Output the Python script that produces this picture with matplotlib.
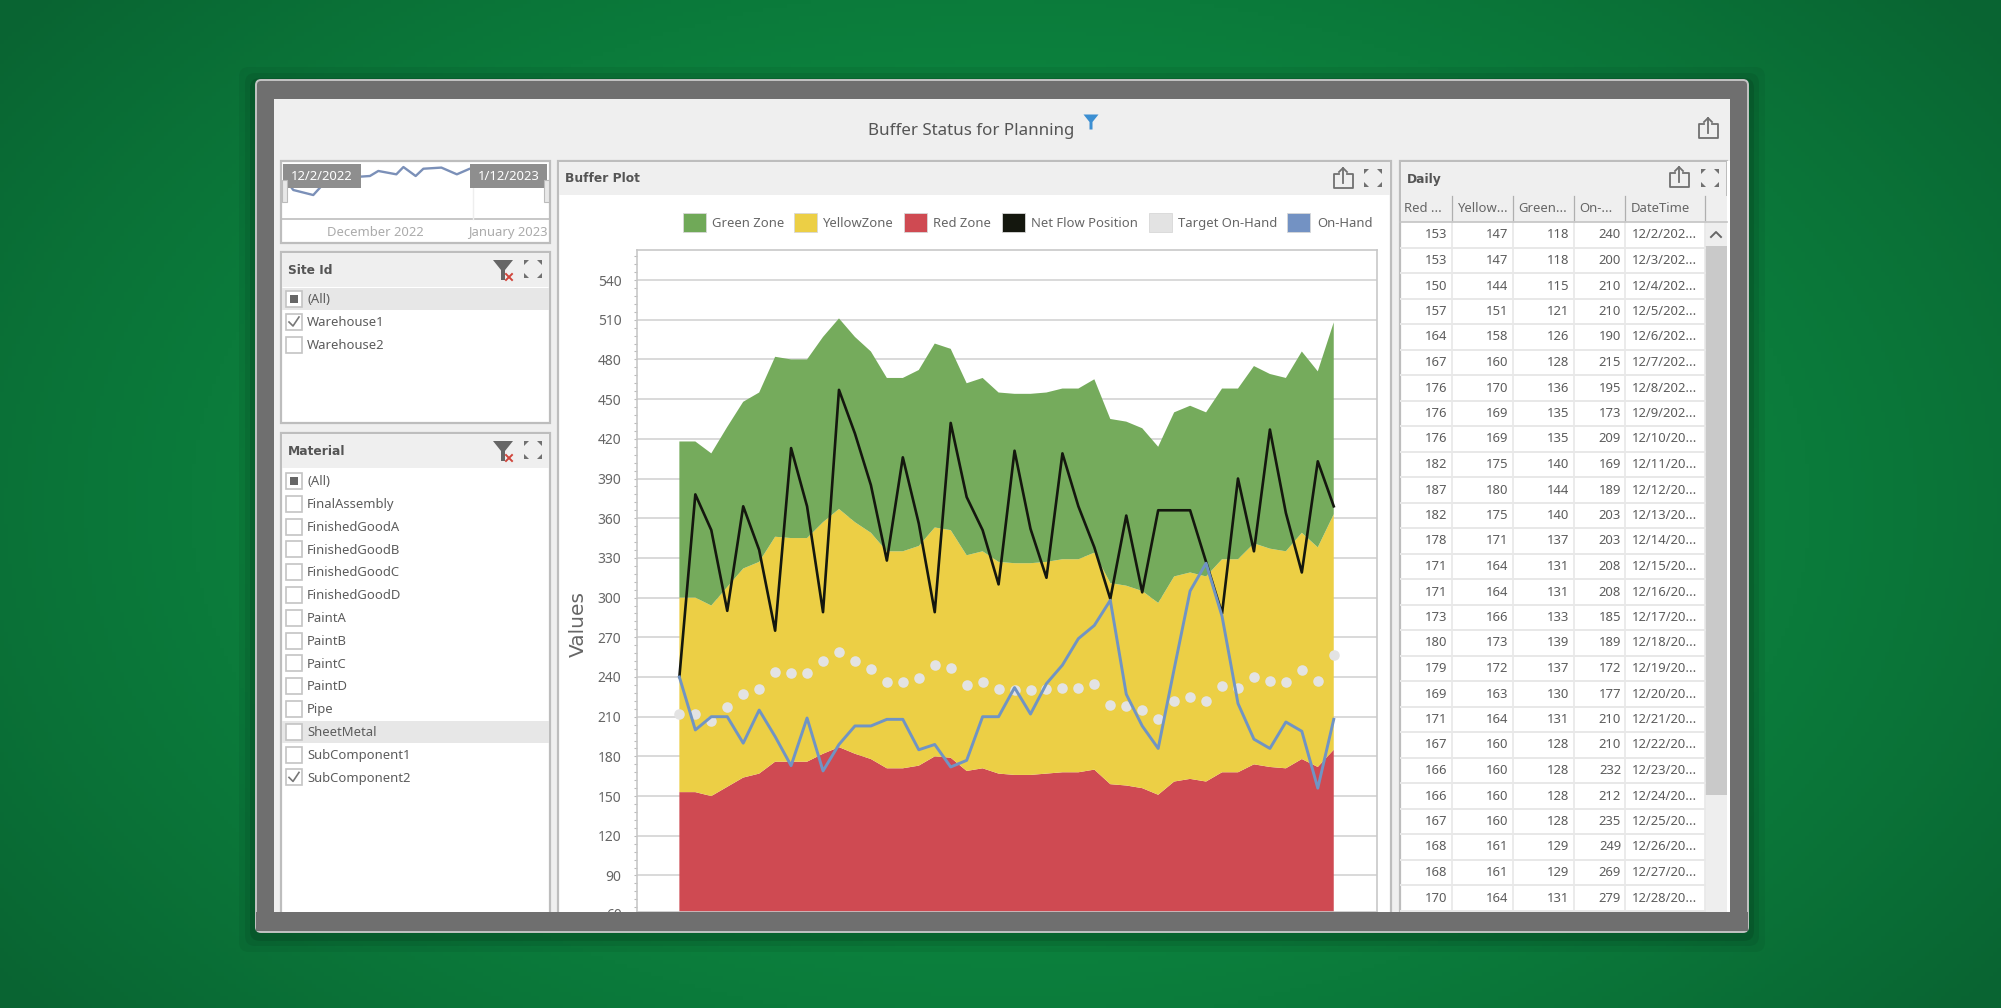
import matplotlib
matplotlib.use("Agg")
import matplotlib.pyplot as plt
import numpy as np
from matplotlib.patches import Rectangle, Polygon, FancyBboxPatch
from matplotlib.ticker import MultipleLocator

red_zone = [153, 153, 150, 157, 164, 167, 176, 176, 176, 182, 187, 182, 178, 171, 171, 173, 180, 179, 169, 171, 167,
            166, 166, 167, 168, 168, 170, 159, 158, 156, 151, 161, 163, 161, 168, 168, 174, 172, 171, 178, 172, 185]
yellow_zone = [147, 147, 144, 151, 158, 160, 170, 169, 169, 175, 180, 175, 171, 164, 164, 166, 173, 172, 163, 164, 160,
               160, 160, 160, 161, 161, 164, 152, 151, 149, 145, 155, 156, 155, 161, 161, 167, 165, 164, 171, 166, 178]
green_zone = [118, 118, 115, 121, 126, 128, 136, 135, 135, 140, 144, 140, 137, 131, 131, 133, 139, 137, 130, 131, 128,
              128, 128, 128, 129, 129, 131, 124, 124, 123, 118, 124, 126, 124, 129, 129, 134, 132, 131, 137, 133, 145]
on_hand = [240, 200, 210, 210, 190, 215, 195, 173, 209, 169, 189, 203, 203, 208, 208, 185, 189, 172, 177, 210, 210,
           232, 212, 235, 249, 269, 279, 298, 227, 203, 186, 246, 305, 326, 286, 220, 193, 186, 206, 199, 156, 208]
net_flow = [240, 378, 351, 290, 369, 336, 275, 413, 369, 289, 457, 424, 385, 328, 406, 356, 289, 432, 376, 351, 310,
            411, 352, 315, 409, 369, 338, 299, 362, 304, 366, 366, 366, 327, 288, 390, 335, 427, 364, 319, 403, 369]
target_on_hand = [212, 212, 207, 217, 227, 231, 244, 243, 243, 252, 259, 252, 246, 236, 236, 239, 249, 247, 234, 236, 231,
                  230, 230, 231, 232, 232, 235, 219, 218, 215, 208, 222, 225, 222, 233, 232, 240, 237, 236, 245, 237, 257]
days = np.arange(len(red_zone))

y_ticks = list(range(90, 541, 30))
legend_names = ["Green Zone", "YellowZone", "Red Zone", "Net Flow Position", "Target On-Hand", "On-Hand"]
legend_colors = ["#70A958", "#ECCF45", "#CF4A52", "#14170E", "#E3E3E3", "#7392C3"]

mini_days = [-0.2, 1.6, 4.7, 7, 12.2, 13.5, 14.8, 17.6, 18.7, 20.6, 21.8, 24.6, 27, 29, 35, 41]
mini_values = [77, 50, 41, 70, 74, 75, 84, 78, 91, 75, 88, 90, 78, 88, 85, 80]

site_names = ["(All)", "Warehouse1", "Warehouse2"]
site_states = ["some", "on", "off"]
material_names = ["(All)", "FinalAssembly", "FinishedGoodA", "FinishedGoodB", "FinishedGoodC", "FinishedGoodD",
                  "PaintA", "PaintB", "PaintC", "PaintD", "Pipe", "SheetMetal", "SubComponent1", "SubComponent2"]
material_states = ["some"] + ["off"] * 12 + ["on"]

table_columns = ["Red ...", "Yellow...", "Green...", "On-...", "DateTime"]
table_rows = 27
table_dates = ["12/%d/202..." % d if d < 10 else "12/%d/20..." % d for d in range(2, 2 + table_rows)]

plt.rcParams["font.family"] = ["Noto Sans", "DejaVu Sans"]
W, H = 2001, 1008
TXT = "#5C5C5C"
BORDER = "#BDBDBD"
HEAD = "#EFEFEF"

fig = plt.figure(figsize=(W / 100, H / 100), dpi=100)


def px_axes(z):
    a = fig.add_axes([0, 0, 1, 1], zorder=z)
    a.set_xlim(0, W)
    a.set_ylim(H, 0)
    a.axis("off")
    a.patch.set_alpha(0)
    return a


bg = px_axes(0)
top = px_axes(5)


def rect(a, x0, y0, x1, y1, fc, ec="none", lw=1.0, **kw):
    a.add_patch(Rectangle((x0, y0), x1 - x0, y1 - y0, facecolor=fc, edgecolor=ec, linewidth=lw, **kw))


def label(x, y, s, size=9.4, color=TXT, ha="left", **kw):
    bg.text(x, y + 0.8, s, fontsize=size, color=color, ha=ha, va="center", **kw)


def share_icon(cx, cy):
    bg.plot([cx - 4, cx - 9.5, cx - 9.5, cx + 9.5, cx + 9.5, cx + 4], [cy - 5, cy - 5, cy + 9, cy + 9, cy - 5, cy - 5],
            color="#707070", lw=1.3)
    bg.plot([cx, cx], [cy + 4, cy - 11], color="#707070", lw=1.3)
    bg.plot([cx - 4, cx, cx + 4], [cy - 7, cy - 11, cy - 7], color="#707070", lw=1.3)


def expand_icon(cx, cy):
    for sx in (-1, 1):
        for sy in (-1, 1):
            bg.add_patch(Polygon([(cx + sx * 9, cy + sy * 9), (cx + sx * 4, cy + sy * 9), (cx + sx * 9, cy + sy * 4)],
                                 facecolor="#707070", edgecolor="none"))


def funnel_icon(cx, cy, color="#666666", size=10.0, cross=True):
    s = size
    bg.add_patch(Polygon([(cx - s, cy - s), (cx + s, cy - s), (cx + s * 0.2, cy), (cx + s * 0.2, cy + s),
                          (cx - s * 0.2, cy + s), (cx - s * 0.2, cy)], facecolor=color, edgecolor="none"))
    if cross:
        bg.plot([cx + 3, cx + 9], [cy + 4, cy + 10], color="#D0453C", lw=1.4)
        bg.plot([cx + 3, cx + 9], [cy + 10, cy + 4], color="#D0453C", lw=1.4)


def check_box(x, y, state):
    rect(bg, x, y - 8, x + 16, y + 8, "white", ec="#C4C4C4", lw=1.2)
    if state == "some":
        rect(bg, x + 4, y - 4, x + 12, y + 4, "#666666")
    if state == "on":
        bg.plot([x + 3, x + 7, x + 13], [y, y + 4, y - 5], color="#777777", lw=1.2)


def panel(x0, y0, x1, y1, title, head_bottom):
    rect(bg, x0, y0, x1, y1, "white", ec=BORDER, lw=1.6)
    rect(bg, x0 + 1, y0 + 1, x1 - 1, head_bottom, HEAD)
    label(x0 + 7, (y0 + head_bottom) / 2, title, size=8.8, color="#555555", fontweight="bold", family="DejaVu Sans")


def list_rows(names, states, y0, step, hilite):
    for i, (n, st) in enumerate(zip(names, states)):
        y = y0 + i * step
        if n == hilite:
            rect(bg, 282, y - 11, 549, y + 11, "#E7E7E7")
        check_box(286, y, st)
        label(307, y, n)


# green backdrop
yy, xx = np.mgrid[0:H:4, 0:W:4]
r = np.clip(np.hypot((xx - 1000) / 1250, (yy - 504) / 800), 0, 1)[..., None]
center = np.array([13, 146, 68]) / 255
edge = np.array([9, 100, 50]) / 255
bg.imshow(center + (edge - center) * r ** 1.6, extent=(0, W, H, 0), aspect="auto", zorder=-5)
bg.set_xlim(0, W)
bg.set_ylim(H, 0)

# window frame
for grow, al in ((16, 0.05), (10, 0.07), (5, 0.10)):
    bg.add_patch(FancyBboxPatch((255 - grow, 80 - grow + 3), 1494 + 2 * grow, 853 + 2 * grow,
                                boxstyle="round,pad=0,rounding_size=10", fc="black", ec="none", alpha=al, zorder=-4))
bg.add_patch(FancyBboxPatch((256, 80), 1492, 852, boxstyle="round,pad=0,rounding_size=5",
                            fc="#6F6F6F", ec="#C4C4C4", lw=1.4, zorder=-3))
rect(bg, 274, 99, 1730, 912, HEAD)

# title row
label(971, 130, "Buffer Status for Planning", size=12.2, color="#555555", ha="center")
funnel_icon(1091, 122, color="#3C8FD2", size=7.5, cross=False)
share_icon(1708, 129)

# range selector
rect(bg, 281, 161, 550, 243, "white", ec=BORDER, lw=1.6)
bg.plot([281, 550], [219, 219], color=BORDER, lw=1.2)
bg.plot([473, 473], [188, 219], color="#EEEEEE", lw=1)
label(375, 232, "December 2022", size=9.4, color="#ABABAB", ha="center")
label(508, 232, "January 2023", size=9.4, color="#ABABAB", ha="center")

mini = fig.add_axes([283 / W, 1 - 218 / H, (547 - 283) / W, 56 / H], zorder=2)
mini.plot(mini_days, mini_values, color="#7B90B8", lw=1.7)
mini.set_xlim(0, 41)
mini.set_ylim(0, 100)
mini.axis("off")

top2 = px_axes(3)
for x0, x1, s in ((283, 361, "12/2/2022"), (470, 547, "1/12/2023")):
    rect(top2, x0, 164, x1, 188, "#8E8E8E")
    top2.text((x0 + x1) / 2, 176.8, s, fontsize=9.4, color="white", ha="center", va="center")
rect(top2, 282, 180, 287, 202, "#E8E8E8", ec="#BBBBBB", lw=0.8)
rect(top2, 544, 180, 549, 202, "#E8E8E8", ec="#BBBBBB", lw=0.8)

# filter panels
panel(281, 252, 550, 423, "Site Id", 287)
funnel_icon(503, 270)
expand_icon(533, 269)
list_rows(site_names, site_states, 299, 23, "(All)")
rect(bg, 282, 288, 549, 310, "#E7E7E7", zorder=0.5)

panel(281, 433, 550, 925, "Material", 468)
funnel_icon(503, 451)
expand_icon(533, 450)
list_rows(material_names, material_states, 481, 22.8, "SheetMetal")

# chart panel
panel(558, 161, 1391, 925, "Buffer Plot", 195)
share_icon(1343, 179)
expand_icon(1373, 178)
for name, col, sx, tx in zip(legend_names, legend_colors,
                             [683, 794, 904, 1002, 1149, 1287], [712, 823, 933, 1031, 1178, 1317]):
    rect(bg, sx, 213, sx + 23, 232, col, ec="#D8D8D8", lw=0.6)
    label(tx, 223, name, color="#666666")
label(578, 623, "Values", size=14.5, color="#666666", ha="center", rotation=90, family="DejaVu Sans")

ax = fig.add_axes([636.6 / W, 1 - 912 / H, (1377 - 636.6) / W, (912 - 250) / H], zorder=1)
ax.stackplot(days, red_zone, yellow_zone, green_zone, colors=["#CF4A52", "#ECCF45", "#75AB5C"], linewidth=0)
ax.plot(days, net_flow, color="#14170E", lw=1.9, zorder=3)
ax.plot(days, target_on_hand, ls="none", marker="o", ms=7.6, mfc="#E3E3E3", mec="none", zorder=4, clip_on=False)
ax.plot(days, on_hand, color="#7094C4", lw=2.1, zorder=5)
ax.set_xlim(-2.68, 43.71)
ax.set_ylim(62.4, 562.7)
ax.set_xticks([])
ax.set_yticks(y_ticks)
ax.yaxis.set_minor_locator(MultipleLocator(6))
ax.tick_params(axis="y", which="major", length=2.5, width=0.8, color="#BBBBBB", labelsize=10, labelcolor="#666666", pad=8.4)
ax.tick_params(axis="y", which="minor", length=2.5, width=0.8, color="#BBBBBB")
ax.grid(axis="y", color="#D9D9D9", lw=1.4)
ax.set_axisbelow(True)
for s in ax.spines.values():
    s.set_color("#C8C8C8")
    s.set_linewidth(1.2)
ax.annotate("60", xy=(0, 60), xycoords=("axes fraction", "data"), xytext=(-10.8, 0), textcoords="offset points",
            ha="right", va="center", fontsize=10, color="#666666", annotation_clip=False)

# table panel
panel(1400, 161, 1727, 925, "Daily", 196)
share_icon(1679, 178)
expand_icon(1710, 178)
col_edges = [1400, 1452, 1513, 1574, 1625, 1705]
col_text = [1404, 1458, 1518, 1579, 1631]
rect(bg, 1401, 196, 1727, 222, HEAD)
for c, tx in zip(table_columns, col_text):
    label(tx, 208, c, color="#666666")
for e in col_edges[1:]:
    bg.plot([e, e], [196, 222], color="#AFAFAF", lw=0.9)
    bg.plot([e, e], [222, 912], color="#E8E8E8", lw=1.2)
bg.plot([1400, 1727], [222, 222], color="#C4C4C4", lw=1.2)
num_right = [1447, 1508, 1569, 1621]
for i in range(table_rows):
    y = 235 + 25.5 * i
    bg.plot([1401, 1705], [y + 12.7, y + 12.7], color="#E8E8E8", lw=1.4)
    for vals, rx in zip((red_zone, yellow_zone, green_zone, on_hand), num_right):
        label(rx, y - 0.8, str(vals[i]), ha="right")
    label(1632, y - 0.8, table_dates[i])
rect(bg, 1705, 222, 1727, 925, "#EEEEEE")
rect(bg, 1705, 246, 1727, 795, "#C9C9C9")
bg.plot([1711, 1716, 1721], [237, 232, 237], color="#666666", lw=1.4)
rect(bg, 1727, 161, 1730, 912, "white")

# bottom of the window sits on top of everything it cuts off
rect(top, 256, 912, 1748, 931, "#6F6F6F")

fig.savefig("out.png", dpi=100)
